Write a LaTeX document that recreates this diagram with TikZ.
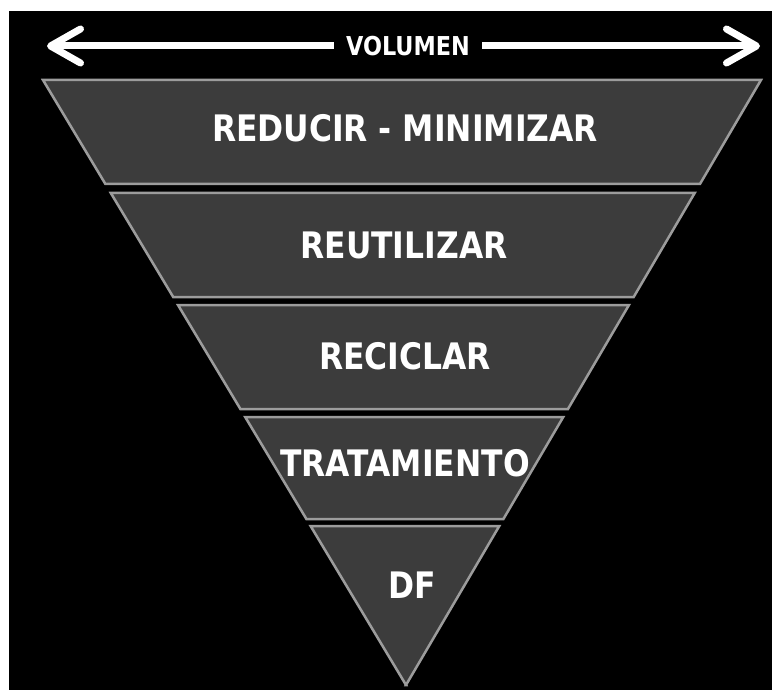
\documentclass[tikz,border=0pt]{standalone}
\usepackage{fontspec}
\setmainfont{DejaVu Sans}[FakeStretch=0.86]
\usetikzlibrary{arrows.meta}
\definecolor{bandgray}{HTML}{3C3C3C}
\definecolor{edgegray}{HTML}{9C9C9C}
\tikzset{
  band/.style={fill=bandgray, draw=edgegray, line width=2.5pt, line join=miter},
  bandtext/.style={text=white, font=\bfseries\fontsize{36.5}{36.5}\selectfont, inner sep=0pt},
  volline/.style={draw=white, line width=7pt},
}
\begin{document}
\begin{tikzpicture}[x=1pt,y=-1pt,>/.tip={Straight Barb[length=30pt,width=34pt,round]}]
    \fill[white] (0,0) rectangle (772,690);
    \fill[black] (9,11) rectangle (772,690);
    \node[text=white, font=\bfseries\fontsize{26}{26}\selectfont, inner xsep=12pt, inner ysep=0pt] (vol) at (408,46) {VOLUMEN};
    \coordinate (ltip) at (47,46);
    \coordinate (rtip) at (760,46);
    \draw[volline,->] (vol) -- (ltip);
    \draw[volline,->] (vol) -- (rtip);
    \foreach \t/\b/\tx/\ty/\n/\txt in {80/184/405/128/reducir/REDUCIR - MINIMIZAR,
        193/297/404/245/reutilizar/REUTILIZAR, 305/409/405/356/reciclar/RECICLAR,
        417/519/405/463/tratamiento/TRATAMIENTO, 526/685/412/585/df/DF} {
    	\pgfmathsetmacro\tl{43+(\t-80)*0.6}
    	\pgfmathsetmacro\tr{761-(\t-80)*0.58678}
    	\pgfmathsetmacro\bl{43+(\b-80)*0.6}
    	\pgfmathsetmacro\br{761-(\b-80)*0.58678}
    	\draw[band] (\tl,\t) -- (\tr,\t) -- (\br,\b) -- (\bl,\b) -- cycle;
    	\node[bandtext] (\n) at (\tx,\ty) {\txt};
    }
\end{tikzpicture}
\end{document}
